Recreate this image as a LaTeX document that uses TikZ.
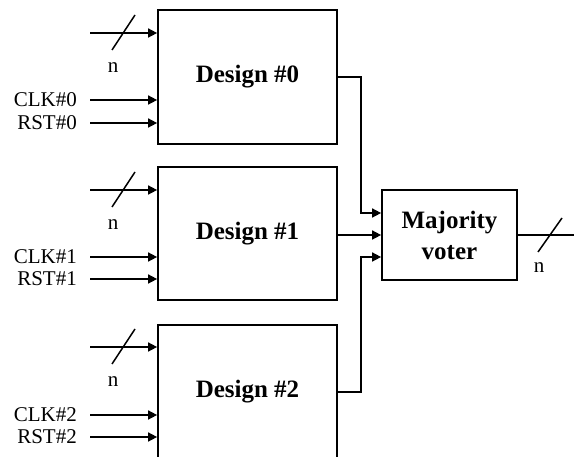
\documentclass[tikz,border=0pt]{standalone}
\usepackage{fontspec}
\setmainfont{Liberation Serif}
\usepackage{tikz}
\usetikzlibrary{arrows.meta, positioning}

\tikzset{
    block/.style={rectangle, draw, line width=1.7pt, font=\fontsize{25}{31}\selectfont\bfseries, align=center},
    sig/.style={line width=1.5pt, -{Triangle[length=9pt, width=9pt]}},
    wire/.style={line width=1.5pt},
    lbl/.style={font=\fontsize{21}{24}\selectfont, inner sep=0pt},
    inlbl/.style={lbl, anchor=east, inner xsep=13pt}
}

\begin{document}
\begin{tikzpicture}[x=1pt, y=-1pt]
        \clip (0, 0) rectangle (574, 457);

        \node[block, minimum width=179pt, minimum height=134pt] (design0) at (247.5, 77) {Design \#0};
        \node[block, minimum width=179pt, minimum height=133pt] (design1) at (247.5, 233.5) {Design \#1};
        \node[block, minimum width=179pt, minimum height=134pt] (design2) at (247.5, 392) {Design \#2};
        \node[block, minimum width=135pt, minimum height=90pt] (voter) at (449.5, 235) {Majority\\voter};

        % inputs of design 0
        \coordinate (bus0) at (90, 33);
        \node[inlbl] (clk0) at (90, 100) {CLK\#0};
        \node[inlbl] (rst0) at (90, 123) {RST\#0};
        \node[lbl] (n0) at ([shift={(23, 35)}]bus0) {n};
        \draw[sig] (bus0) to (bus0 -| design0.west);
        \draw[wire] ([shift={(22, 17)}]bus0) to ([shift={(45, -18)}]bus0);
        \draw[sig] (clk0.east) to (clk0.east -| design0.west);
        \draw[sig] (rst0.east) to (rst0.east -| design0.west);

        % inputs of design 1
        \coordinate (bus1) at (90, 190);
        \node[inlbl] (clk1) at (90, 257) {CLK\#1};
        \node[inlbl] (rst1) at (90, 279) {RST\#1};
        \node[lbl] (n1) at ([shift={(23, 35)}]bus1) {n};
        \draw[sig] (bus1) to (bus1 -| design1.west);
        \draw[wire] ([shift={(22, 17)}]bus1) to ([shift={(45, -18)}]bus1);
        \draw[sig] (clk1.east) to (clk1.east -| design1.west);
        \draw[sig] (rst1.east) to (rst1.east -| design1.west);

        % inputs of design 2
        \coordinate (bus2) at (90, 347);
        \node[inlbl] (clk2) at (90, 415) {CLK\#2};
        \node[inlbl] (rst2) at (90, 437) {RST\#2};
        \node[lbl] (n2) at ([shift={(23, 35)}]bus2) {n};
        \draw[sig] (bus2) to (bus2 -| design2.west);
        \draw[wire] ([shift={(22, 17)}]bus2) to ([shift={(45, -18)}]bus2);
        \draw[sig] (clk2.east) to (clk2.east -| design2.west);
        \draw[sig] (rst2.east) to (rst2.east -| design2.west);

        % to the voter
        \draw[sig] (design0.east) -- ++(23, 0) |- ([shift={(0, -22)}]voter.west);
        \draw[sig] (design1.east |- voter.west) to (voter.west);
        \draw[sig] (design2.east) -- ++(23, 0) |- ([shift={(0, 22)}]voter.west);

        % voter output
        \coordinate (out) at (574, 235);
        \draw[wire] (voter.east) to (out);
        \draw[wire] (538, 252) to (562, 218);
        \node[lbl] (nout) at (539, 268) {n};
    \end{tikzpicture}
\end{document}
